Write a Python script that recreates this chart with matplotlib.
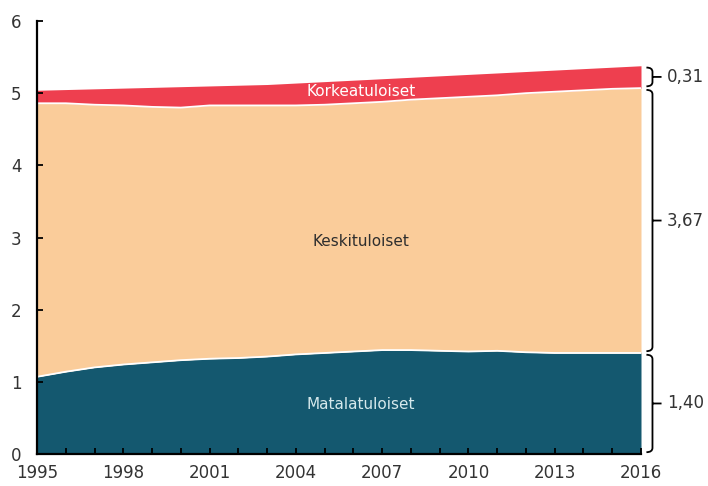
import matplotlib
matplotlib.use("Agg")
import matplotlib.pyplot as plt
import matplotlib.transforms as mtransforms
from matplotlib.path import Path
from matplotlib.patches import PathPatch
import numpy as np

years = list(range(1995, 2017))

# Income groups (stacked from bottom)
matalatuloiset = [1.07, 1.14, 1.20, 1.24, 1.27, 1.30, 1.32, 1.33, 1.35, 1.38, 1.40,
                  1.42, 1.44, 1.44, 1.43, 1.42, 1.43, 1.41, 1.40, 1.40, 1.40, 1.40]
keskituloiset = [3.79, 3.72, 3.64, 3.59, 3.54, 3.50, 3.51, 3.50, 3.48, 3.45, 3.44,
                 3.44, 3.44, 3.47, 3.50, 3.53, 3.54, 3.59, 3.62, 3.64, 3.66, 3.67]
korkeatuloiset = [0.18, 0.19, 0.22, 0.24, 0.27, 0.29, 0.27, 0.28, 0.29, 0.31, 0.32,
                  0.32, 0.32, 0.31, 0.31, 0.31, 0.31, 0.30, 0.30, 0.30, 0.30, 0.31]

group_names = ["Matalatuloiset", "Keskituloiset", "Korkeatuloiset"]
group_colors = ["#14586f", "#facc9a", "#ee3f4f"]
label_colors = ["#d6e9ec", "#2e2e2e", "#ffffff"]
end_labels = ["1,40", "3,67", "0,31"]

y_ticks = [0, 1, 2, 3, 4, 5, 6]
x_tick_years = [1995, 1998, 2001, 2004, 2007, 2010, 2013, 2016]

FONT = ["DejaVu Sans"]
TEXT = "#333333"

fig = plt.figure(figsize=(7.08, 4.86), dpi=100)
ax = fig.add_axes([37 / 708, 32 / 486, 604 / 708, 433 / 486])

x = np.array(years)
series = [np.array(matalatuloiset), np.array(keskituloiset), np.array(korkeatuloiset)]
bottom = np.zeros(len(years))
bounds = []
for vals, col in zip(series, group_colors):
    top = bottom + vals
    ax.fill_between(x, bottom, top, color=col, linewidth=0, zorder=1)
    bounds.append((bottom.copy(), top.copy()))
    bottom = top

# white separators between groups
for b, t in bounds[:2]:
    ax.plot(x, t, color="white", lw=1.3, zorder=2, solid_capstyle="butt")

ax.set_xlim(1995, 2016)
ax.set_ylim(0, 6)
ax.set_yticks(y_ticks)
ax.set_xticks(years, minor=False)
ax.set_xticklabels([str(yy) if yy in x_tick_years else "" for yy in years])

for s in ["top", "right"]:
    ax.spines[s].set_visible(False)
for s in ["left", "bottom"]:
    ax.spines[s].set_linewidth(1.6)
    ax.spines[s].set_color("black")
    ax.spines[s].set_zorder(5)

ax.tick_params(axis="both", direction="in", length=4, width=1.3, color="black",
               labelsize=12, labelcolor=TEXT)
ax.tick_params(axis="y", pad=11)
ax.tick_params(axis="x", pad=7)
for lab in ax.get_xticklabels() + ax.get_yticklabels():
    lab.set_family(FONT)

# group labels inside the areas
label_x = 2006.27
label_y = [0.68, 2.94, 5.02]
for name, ly, lc in zip(group_names, label_y, label_colors):
    ax.text(label_x, ly, name, ha="center", va="center", fontsize=11,
            color=lc, family=FONT, zorder=6)

# braces on the right for the last year's values
trans = mtransforms.blended_transform_factory(ax.transAxes, ax.transData)
x0, x1, x2 = 1.009, 1.019, 1.034
r = 0.06
gap = 0.025
last = [s[-1] for s in series]
lo = 0.0
for val, txt in zip(last, end_labels):
    hi = lo + val
    yb, yt = lo + gap, hi - gap
    ym = (yb + yt) / 2
    verts = [(x0, yt), (x1, yt), (x1, yt - r),
             (x1, yb + r),
             (x1, yb), (x0, yb),
             (x1, ym), (x2, ym)]
    codes = [Path.MOVETO, Path.CURVE3, Path.CURVE3,
             Path.LINETO,
             Path.CURVE3, Path.CURVE3,
             Path.MOVETO, Path.LINETO]
    ax.add_patch(PathPatch(Path(verts, codes), transform=trans, fill=False,
                           lw=1.3, edgecolor="black", clip_on=False))
    ax.text(1.043, ym, txt, transform=trans, ha="left", va="center",
            fontsize=12, color=TEXT, family=FONT)
    lo = hi

fig.savefig("out.png", dpi=100)
